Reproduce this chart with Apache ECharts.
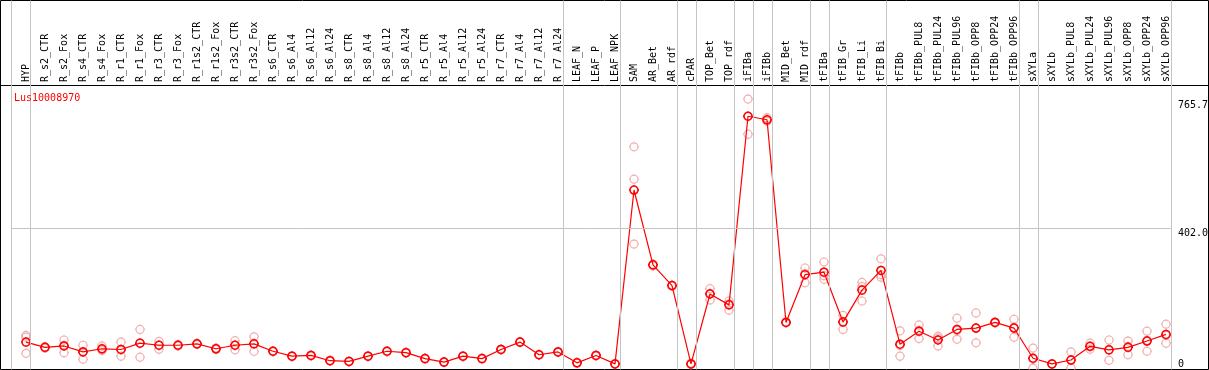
<!DOCTYPE html>
<html>
<head>
<meta charset="utf-8">
<script src="https://cdn.jsdelivr.net/npm/echarts@6/dist/echarts.min.js"></script>
<style>
  html, body { margin: 0; padding: 0; background: #fff; }
  #chart { width: 1209px; height: 370px; }
</style>
</head>
<body>
<div id="chart"></div>
<script>
// ---- data ----
const geneName = 'Lus10008970';
const categories = ['HYP','R_s2_CTR','R_s2_Fox','R_s4_CTR','R_s4_Fox','R_r1_CTR','R_r1_Fox','R_r3_CTR','R_r3_Fox','R_r1s2_CTR','R_r1s2_Fox','R_r3s2_CTR','R_r3s2_Fox','R_s6_CTR','R_s6_Al4','R_s6_Al12','R_s6_Al24','R_s8_CTR','R_s8_Al4','R_s8_Al12','R_s8_Al24','R_r5_CTR','R_r5_Al4','R_r5_Al12','R_r5_Al24','R_r7_CTR','R_r7_Al4','R_r7_Al12','R_r7_Al24','LEAF_N','LEAF_P','LEAF_NPK','SAM','AR_Bet','AR_rdf','cPAR','TOP_Bet','TOP_rdf','iFIBa','iFIBb','MID_Bet','MID_rdf','tFIBa','tFIB_Gr','tFIB_Li','tFIB_Bi','tFIBb','tFIBb_PUL8','tFIBb_PUL24','tFIBb_PUL96','tFIBb_OPP8','tFIBb_OPP24','tFIBb_OPP96','sXYLa','sXYLb','sXYLb_PUL8','sXYLb_PUL24','sXYLb_PUL96','sXYLb_OPP8','sXYLb_OPP24','sXYLb_OPP96'];
const meanValues = [78,63,67,50,59,57,75,69,69,73,59,69,73,52,38,40,25,23,38,52,48,31,21,38,31,57,78,42,50,19,40,16,511,298,239,16,215,184,721,711,134,270,277,135,226,282,72,109,84,114,118,134,118,32,16,27,66,56,63,81,100];
const rep1 = [97,61,84,69,67,78,114,80,71,74,61,82,93,53,39,41,26,24,39,53,49,32,22,39,32,58,79,43,51,20,41,17,634,300,239,18,230,195,770,717,136,289,306,154,248,315,110,127,95,146,161,136,143,61,16,50,75,84,81,109,129];
const rep2 = [46,65,48,29,54,38,35,58,67,71,57,56,52,51,37,39,24,22,37,51,47,30,20,37,30,56,77,41,49,18,39,15,542,295,238,14,198,169,670,707,133,247,257,114,195,263,38,88,67,86,76,133,92,4,15,4,58,26,42,52,75];
const rep3 = [92,63,69,51,57,56,75,69,69,73,59,69,73,52,38,40,25,23,38,52,48,31,21,38,31,57,78,42,50,19,40,16,357,297,239,15,217,187,721,710,134,273,267,137,236,270,68,112,90,111,117,134,120,30,16,27,65,56,66,83,97];
const yLabelValues = [402.0, 765.7];
const yZeroLabel = [0];
const dividerAfter = [-1, 0, 28, 31, 34, 35, 37, 38, 39, 41, 42, 45, 52, 53, 60];
const refLineValue = 402.0;

// ---- build ----
const FONT = 'DejaVu Sans Mono';
const xMin = -1.3421, xMax = 62.2368;
const yMax = 1050.6;
const meanData = meanValues.map((v, i) => [i, v]);
const repData = [];
[rep1, rep2, rep3].forEach(arr => arr.forEach((v, i) => { if (v != null) repData.push([i, v]); }));
const markerPath = 'path://M0,-5V-4M0,4V5M-5,0H-4M4,0H5M4,0A4,4 0 1,1 -4,0A4,4 0 1,1 4,0Z';

const chart = echarts.init(document.getElementById('chart'), null, { renderer: 'canvas' });
chart.setOption({
  animation: false,
  backgroundColor: '#fff',
  title: {
    text: geneName, left: 9, top: 88,
    textStyle: { color: '#ff0000', fontSize: 10, fontFamily: FONT, fontWeight: 'normal' }
  },
  grid: {
    left: 0.5, right: 0.5, top: 0.5, bottom: 0.5,
    show: true, borderColor: '#000', borderWidth: 1,
    containLabel: false, outerBoundsMode: 'none'
  },
  xAxis: {
    type: 'value', min: xMin, max: xMax, position: 'top', offset: -84.5,
    axisLine: { show: true, onZero: false, lineStyle: { color: '#000', width: 1 } },
    axisTick: { show: false }, splitLine: { show: false },
    axisLabel: {
      customValues: categories.map((c, i) => i),
      formatter: v => categories[Math.round(v)] || '',
      rotate: -90, margin: 3, fontSize: 10, fontFamily: FONT, color: '#000'
    }
  },
  yAxis: [
    {
      type: 'value', min: 0, max: yMax, position: 'right', offset: -30.5,
      axisLine: { show: false }, axisTick: { show: false }, splitLine: { show: false },
      axisLabel: {
        customValues: yLabelValues, formatter: v => v.toFixed(1),
        align: 'left', verticalAlign: 'top', margin: 0, inside: false,
        fontSize: 10, fontFamily: FONT, color: '#000'
      }
    },
    {
      type: 'value', min: 0, max: yMax, position: 'right', offset: -30.5,
      axisLine: { show: false }, axisTick: { show: false }, splitLine: { show: false },
      axisLabel: {
        customValues: yZeroLabel, formatter: v => String(v),
        align: 'left', verticalAlign: 'bottom', margin: 0,
        fontSize: 10, fontFamily: FONT, color: '#000'
      }
    }
  ],
  series: [
    {
      type: 'scatter', data: repData, symbol: markerPath, symbolSize: 10,
      itemStyle: { color: 'none', borderColor: '#f09a9a', borderWidth: 1.2 },
      z: 2, silent: true,
      markLine: {
        silent: true, symbol: 'none', animation: false,
        label: { show: false },
        lineStyle: { color: '#c4c4c4', width: 1, type: 'solid' },
        emphasis: { disabled: true },
        data: dividerAfter.map(k => ({ xAxis: k + 0.25 })).concat([
          [{ coord: [dividerAfter[0] + 0.25, refLineValue] }, { coord: [dividerAfter[dividerAfter.length - 1] + 0.25, refLineValue] }]
        ])
      }
    },
    {
      type: 'line', data: meanData, symbol: markerPath, symbolSize: 10,
      showAllSymbol: true,
      lineStyle: { color: '#ff0000', width: 1.2 },
      itemStyle: { color: 'none', borderColor: '#ff0000', borderWidth: 1.5 },
      z: 3, silent: true
    }
  ]
});
</script>
</body>
</html>
